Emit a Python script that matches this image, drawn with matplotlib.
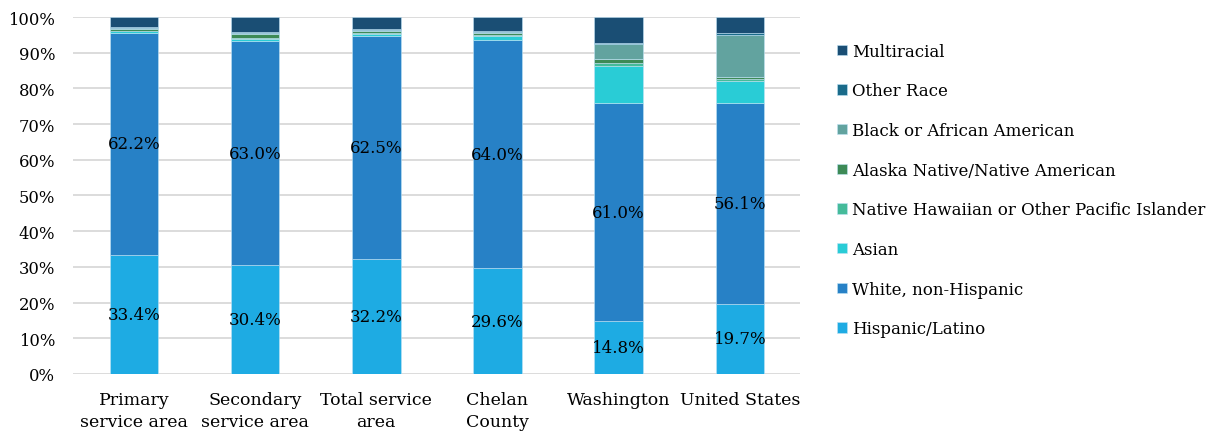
import matplotlib
matplotlib.use("Agg")
import matplotlib.pyplot as plt
import numpy as np

categories = ["Primary\nservice area", "Secondary\nservice area", "Total service\narea",
              "Chelan\nCounty", "Washington", "United States"]
series_names = ["Hispanic/Latino", "White, non-Hispanic", "Asian",
                "Native Hawaiian or Other Pacific Islander", "Alaska Native/Native American",
                "Black or African American", "Other Race", "Multiracial"]
hispanic = [33.4, 30.4, 32.2, 29.6, 14.8, 19.7]
white = [62.2, 63.0, 62.5, 64.0, 61.0, 56.1]
asian = [0.5, 0.5, 0.6, 1.2, 10.5, 6.4]
nhpi = [0.1, 0.1, 0.2, 0.2, 0.9, 0.3]
aian = [0.4, 1.2, 0.6, 0.4, 0.9, 0.6]
black = [0.4, 0.3, 0.3, 0.3, 4.2, 12.0]
other = [0.2, 0.3, 0.3, 0.3, 0.4, 0.5]
multi = [2.8, 4.2, 3.3, 3.9, 7.3, 4.4]
colors = ["#1eabe3", "#2781c6", "#29ccd6", "#45bb9a", "#3d8a56", "#62a39f", "#1a6b8a", "#1a4e74"]

plt.rcParams['font.family'] = ['DejaVu Serif']
fig = plt.figure(figsize=(12.22, 4.35), dpi=100)
ax = fig.add_axes([0.06, 0.138, 0.595, 0.8206])

data = [hispanic, white, asian, nhpi, aian, black, other, multi]
x = np.arange(len(categories))
bottom = np.zeros(len(categories))
handles = []
for i, (vals, name, c) in enumerate(zip(data, series_names, colors)):
    vals = np.array(vals)
    b = ax.bar(x, vals, 0.4, bottom=bottom, color=c, label=name, edgecolor="#bfe3f5", linewidth=0.4, zorder=3)
    handles.append(b)
    if i < 2:
        for xi, v, bt in zip(x, vals, bottom):
            ax.text(xi, bt + v / 2, f"{v:.1f}%", ha="center", va="center", fontsize=12, color="black", zorder=4)
    bottom += vals

ax.set_ylim(0, 100)
ax.set_xlim(-0.5, len(categories) - 0.5)
ax.set_yticks(np.arange(0, 101, 10))
ax.set_yticklabels([f"{v}%" for v in range(0, 101, 10)], fontsize=11.8)
ax.set_xticks(x)
ax.set_xticklabels(categories, fontsize=12.5, linespacing=1.4)
ax.tick_params(axis="y", length=0, pad=13)
ax.tick_params(axis="x", length=0, pad=12)
ax.grid(axis="y", color="#d9d9d9", linewidth=1.3, zorder=0)
for s in ["top", "right", "left", "bottom"]:
    ax.spines[s].set_visible(False)

leg = fig.legend(handles[::-1], series_names[::-1], loc="upper left", bbox_to_anchor=(0.6726, 0.934),
                 frameon=False, fontsize=12, handlelength=0.6, handleheight=0.6,
                 handletextpad=0.3, labelspacing=1.36)
fig.savefig("out.png", dpi=100)
